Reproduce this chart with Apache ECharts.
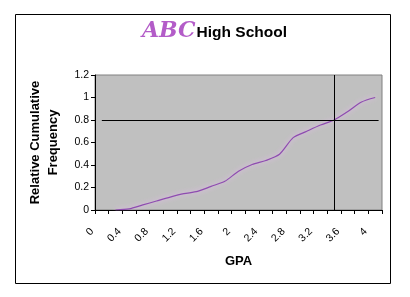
<!DOCTYPE html>
<html>
<head>
<meta charset="utf-8">
<script src="https://cdn.jsdelivr.net/npm/echarts@6/dist/echarts.min.js"></script>
<style>html,body{margin:0;padding:0;background:#fff;}#c{width:410px;height:297px;}</style>
</head>
<body>
<div id="c"></div>
<script>
// GPA positions of the plotted points (axis units)
const gpa = [0.3,0.5,0.7,0.9,1.1,1.3,1.5,1.7,1.9,2.1,2.3,2.5,2.7,2.9,3.1,3.3,3.5,3.7,3.9,4.1];
// Relative cumulative frequency
const relCumFreq = [0,0.01,0.045,0.08,0.115,0.145,0.165,0.21,0.255,0.345,0.405,0.44,0.495,0.643,0.70,0.755,0.80,0.875,0.96,1.0];
// Reference (80th percentile) lines
const cutGpa = 3.5;
const cutFreq = 0.8;
const hLineSpan = [0.1, 4.15];
const vLineSpan = [0, 1.2];
// Axis settings
const xTicks = [0,0.4,0.8,1.2,1.6,2,2.4,2.8,3.2,3.6,4];
const yTicks = [0,0.2,0.4,0.6,0.8,1,1.2];

const chart = echarts.init(document.getElementById('c'), null, {renderer:'canvas'});
const font = 'Liberation Sans';
const option = {
  animation: false,
  backgroundColor: '#ffffff',
  textStyle: {fontFamily: font},
  title: {
    text: '{a|ABC}{b|High School}',
    left: 137, top: 15,
    textStyle: {
      rich: {
        a: {fontFamily: 'DejaVu Serif', fontStyle: 'italic', fontSize: 22, color: '#b35cc8'},
        b: {fontFamily: font, fontSize: 15.5, fontWeight: 'bold', color: '#000', padding:[4,0,0,1]}
      }
    }
  },
  graphic: [{
    type: 'rect', silent: true,
    shape: {x: 15.5, y: 14.5, width: 375, height: 269},
    style: {fill: 'none', stroke: '#000', lineWidth: 1}
  }],
  grid: {
    left: 95, top: 75, right: 28, bottom: 87,
    show: true, backgroundColor: '#c0c0c0', borderColor: '#808080', borderWidth: 1
  },
  xAxis: {
    type: 'value', min: 0, max: 4.2, interval: 0.2,
    name: 'GPA', nameLocation: 'middle', nameGap: 45,
    nameTextStyle: {fontFamily: font, fontSize: 13, fontWeight: 'bold', color: '#000'},
    axisLine: {lineStyle: {color: '#000', width: 1}},
    axisTick: {show: true, length: 4, lineStyle: {color: '#000'}},
    splitLine: {show: false},
    axisLabel: {
      rotate: 45, margin: 17, fontSize: 10.5, color: '#000', fontFamily: font,
      padding: [0, 4, 0, 0],
      formatter: function (v) {
        const r = Math.round(v * 10) / 10;
        return xTicks.some(t => Math.abs(t - r) < 1e-6) ? String(r) : '';
      }
    }
  },
  yAxis: {
    type: 'value', min: 0, max: 1.2, interval: 0.2,
    name: 'Relative Cumulative\nFrequency', nameLocation: 'middle', nameGap: 33, nameRotate: 90,
    nameTextStyle: {fontFamily: font, fontSize: 13, fontWeight: 'bold', color: '#000', lineHeight: 18},
    axisLine: {show: true, lineStyle: {color: '#000', width: 1}},
    axisTick: {show: true, length: 4, lineStyle: {color: '#000'}},
    splitLine: {show: false},
    axisLabel: {
      margin: 6, fontSize: 10.5, color: '#000', fontFamily: font,
      formatter: function (v) {
        const r = Math.round(v * 10) / 10;
        return yTicks.some(t => Math.abs(t - r) < 1e-6) ? String(r) : '';
      }
    }
  },
  series: [{
    type: 'line',
    data: gpa.map((g, i) => [g, relCumFreq[i]]),
    showSymbol: false, symbol: 'none', smooth: 0.25,
    lineStyle: {color: '#8e4cb0', width: 1.2, shadowColor: '#f0b8ff', shadowBlur: 5},
    markLine: {
      silent: true, symbol: 'none', animation: false,
      label: {show: false},
      lineStyle: {color: '#000', width: 1, type: 'solid'},
      data: [
        [{coord: [hLineSpan[0], cutFreq]}, {coord: [hLineSpan[1], cutFreq]}],
        [{coord: [cutGpa, vLineSpan[0]]}, {coord: [cutGpa, vLineSpan[1]]}]
      ]
    }
  }]
};
chart.setOption(option);
</script>
</body>
</html>
